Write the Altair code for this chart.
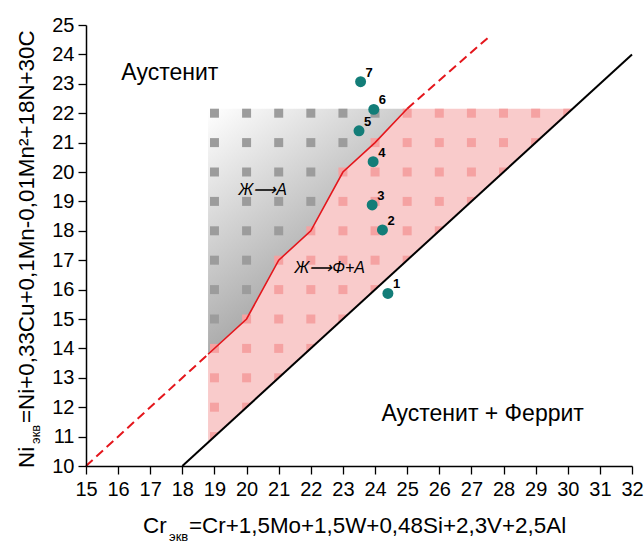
import altair as alt
import numpy as np
import pandas as pd

FONT = "Liberation Sans"

# Liquidus boundary (red): solid part and its dashed extensions
red_x = [18.8, 20, 21, 22, 23, 24, 25]
red_y = [13.8, 15, 17, 18, 20, 21, 22.15]
dash_lo_x = [15, 18.8]
dash_lo_y = [10, 13.8]
dash_hi_x = [25, 27.55]
dash_hi_y = [22.15, 24.6]

# Austenite / austenite+ferrite boundary (black)
black_x = [18, 32]
black_y = [10, 24]

# Shaded field limits
field_top = 22.15
pink_x = [18.8, 20, 21, 22, 23, 24, 25, 30.15]
pink_lo = [10.8, 12, 13, 14, 15, 16, 17, 22.15]
pink_hi = [13.8, 15, 17, 18, 20, 21, 22.15, 22.15]

# Steel compositions
pt_x = [24.4, 24.23, 23.91, 23.94, 23.5, 23.96, 23.55]
pt_y = [15.87, 18.03, 18.88, 20.35, 21.4, 22.13, 23.07]
pt_lab = ["1", "2", "3", "4", "5", "6", "7"]

x_ticks = list(np.arange(15, 32.01, 0.5))
y_ticks = list(np.arange(10, 25.01, 0.5))

W, H = 546, 441

axis_common = dict(
    grid=False,
    domainColor="black",
    domainWidth=1.5,
    tickColor="black",
    tickWidth=1.3,
    tickSize={"condition": {"test": "datum.value % 1 != 0", "value": 4}, "value": 8},
    labelExpr="datum.value % 1 == 0 ? datum.label : ''",
    labelFont=FONT,
    labelFontSize=20,
    labelColor="black",
    labelOverlap=False,
    labelFlush=False,
    title=None,
    zindex=1,
)

xs = alt.Scale(domain=[15, 32], nice=False, zero=False)
ys = alt.Scale(domain=[10, 25], nice=False, zero=False)

def X(field="x"):
    return alt.X(f"{field}:Q", scale=xs,
                 axis=alt.Axis(values=x_ticks, format="d", labelPadding=5, **axis_common))

def Y(field="y"):
    return alt.Y(f"{field}:Q", scale=ys,
                 axis=alt.Axis(values=y_ticks, format="d", labelPadding=4, **axis_common))

# Two-phase field (pink)
pink_df = pd.DataFrame({"x": pink_x, "y": pink_lo, "y2": pink_hi})
pink = alt.Chart(pink_df).mark_area(color="#f9cbcb", opacity=1).encode(
    x=X(), y=Y(), y2="y2:Q")

# Primary austenite field (grey gradient)
gray_df = pd.DataFrame({"x": red_x, "y": red_y, "y2": [field_top] * len(red_x)})
gray = alt.Chart(gray_df).mark_area(
    color=alt.LinearGradient(
        gradient="linear",
        stops=[alt.GradientStop(color="#ffffff", offset=0),
               alt.GradientStop(color="#8e8e8e", offset=1)],
        x1=0, y1=0, x2=0.6, y2=1),
).encode(x=X(), y=Y(), y2="y2:Q")

# Square dot pattern on the shaded fields
gx, gy = np.meshgrid(np.arange(19, 31), np.arange(11, 23))
gx, gy = gx.ravel(), gy.ravel()
red_at = np.interp(gx, red_x, red_y)
rows = []
for a, b, r in zip(gx, gy, red_at):
    if a - b > 8:
        continue
    col = "#9c9c9c" if b > r + 1e-9 else "#f5a2a2"
    rows.append({"x": float(a), "y": float(b), "c": col})
sq_df = pd.DataFrame(rows)
squares = alt.Chart(sq_df).mark_square(size=81, opacity=1).encode(
    x=X(), y=Y(), color=alt.Color("c:N", scale=None))

# Blank the area under the black boundary so the pattern stops there
under_df = pd.DataFrame({"x": black_x, "y": [10, 10], "y2": black_y})
under = alt.Chart(under_df).mark_area(color="white", opacity=1).encode(
    x=X(), y=Y(), y2="y2:Q")

red_df = pd.DataFrame({"x": red_x, "y": red_y, "o": range(len(red_x))})
red_line = alt.Chart(red_df).mark_line(color="#e4161c", strokeWidth=1.6).encode(
    x=X(), y=Y(), order="o:Q")

dash_df = pd.DataFrame({"x": dash_lo_x + dash_hi_x, "y": dash_lo_y + dash_hi_y,
                        "g": ["lo", "lo", "hi", "hi"]})
dash_line = alt.Chart(dash_df).mark_line(color="#e4161c", strokeWidth=2,
                                         strokeDash=[9, 5]).encode(
    x=X(), y=Y(), detail="g:N")

black_df = pd.DataFrame({"x": black_x, "y": black_y})
black_line = alt.Chart(black_df).mark_line(color="black", strokeWidth=2).encode(
    x=X(), y=Y())

pts_df = pd.DataFrame({"x": pt_x, "y": pt_y, "lab": pt_lab})
points = alt.Chart(pts_df).mark_circle(size=120, color="#137d78", opacity=1).encode(
    x=X(), y=Y())
point_labels = alt.Chart(pts_df).mark_text(
    font=FONT, fontSize=13, fontWeight="bold", align="left", dx=5, dy=-9,
    color="black").encode(x=X(), y=Y(), text="lab:N")

# Field names
reg_df = pd.DataFrame({
    "x": [17.61, 27.35], "y": [23.37, 11.77],
    "t": ["Аустенит", "Аустенит + Феррит"]})
regions = alt.Chart(reg_df).mark_text(font=FONT, fontSize=23, color="black").encode(
    x=X(), y=Y(), text="t:N")

tr_df = pd.DataFrame({"x": [20.5, 22.59], "y": [19.39, 16.73],
                      "t": ["Ж⟶А", "Ж⟶Ф+А"]})
transforms = alt.Chart(tr_df).mark_text(font=FONT, fontSize=16, fontStyle="italic",
                                        color="black").encode(
    x=X(), y=Y(), text="t:N")

one = pd.DataFrame({"k": [0]})

def piece(txt, px, py, size, angle=0):
    return alt.Chart(one).mark_text(
        text=txt, font=FONT, fontSize=size, align="left", baseline="alphabetic",
        angle=angle, color="black").encode(x=alt.value(px), y=alt.value(py))

# Axis titles with subscripted "экв"
x_title = [
    piece("Cr", 57, 508, 22.4),
    piece("экв", 83, 516, 13),
    piece("=Cr+1,5Mo+1,5W+0,48Si+2,3V+2,5Al", 103, 508, 22.4),
]
y_title = [
    piece("Ni", -52, 443, 22.4, 270),
    piece("экв", -46, 419, 13, 270),
    piece("=Ni+0,33Cu+0,1Mn-0,01Mn²+18N+30C", -52, 398, 22.4, 270),
]

chart = alt.layer(
    pink, gray, squares, under, red_line, dash_line, black_line,
    points, point_labels, regions, transforms, *x_title, *y_title
).properties(
    width=W, height=H,
    padding={"left": 86, "top": 25, "right": 12, "bottom": 79},
    autosize=alt.AutoSizeParams(type="none"),
).configure_view(stroke=None)

chart.save("out.html", embed_options={"renderer": "svg", "actions": False})
